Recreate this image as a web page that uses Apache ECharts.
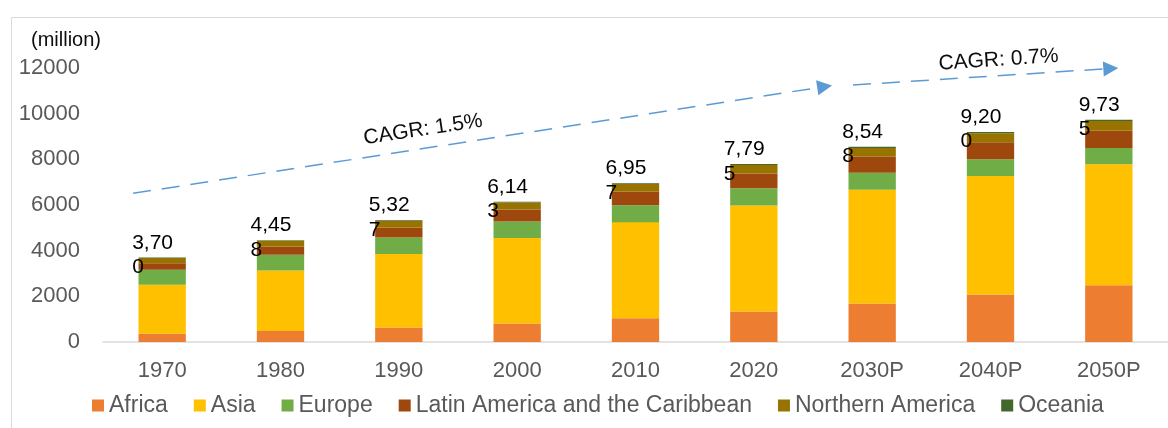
<!DOCTYPE html>
<html><head><meta charset="utf-8">
<script src="https://cdn.jsdelivr.net/npm/echarts@6/dist/echarts.min.js"></script>
<style>html,body{margin:0;padding:0;background:#fff}#c{width:1168px;height:428px}</style>
</head><body><div id="c"></div>
<script>
// ---- data ----
const categories = ['1970', '1980', '1990', '2000', '2010', '2020', '2030P', '2040P', '2050P'];
const africa = [364, 478, 630, 811, 1039, 1341, 1688, 2077, 2489];
const asia = [2142, 2648, 3226, 3740, 4211, 4640, 4978, 5196, 5292];
const europe = [657, 694, 721, 726, 736, 748, 741, 728, 710];
const latinAmerica = [287, 361, 443, 522, 591, 654, 706, 745, 762];
const northernAmerica = [231, 254, 280, 313, 343, 369, 387, 401, 425];
const oceania = [19, 23, 27, 31, 37, 43, 48, 53, 57];
const seriesNames = ['Africa', 'Asia', 'Europe', 'Latin America and the Caribbean', 'Northern America', 'Oceania'];
const yMin = 0, yMax = 12000, yInterval = 2000;
const unitLabel = '(million)';
const cagrTexts = ['CAGR: 1.5%', 'CAGR: 0.7%'];

// ---- styling ----
const FONT = 'Liberation Sans, Arial, sans-serif';
const colors = ['#ED7D31', '#FFC000', '#70AD47', '#9E480E', '#997300', '#43682B'];
const seriesData = [africa, asia, europe, latinAmerica, northernAmerica, oceania];
const totals = categories.map((_, i) => seriesData.reduce((s, arr) => s + arr[i], 0));

function wrapTotal(v) {
  const s = v.toLocaleString('en-US');
  return s.slice(0, 4) + '\n' + s.slice(4);
}

const chart = echarts.init(document.getElementById('c'), null, { renderer: 'canvas' });

const series = seriesNames.map((name, k) => ({
  name: name,
  type: 'bar',
  stack: 'total',
  barWidth: '40%',
  data: seriesData[k],
  itemStyle: { color: colors[k] },
  emphasis: { disabled: true },
  label: k === seriesNames.length - 1 ? {
    show: true,
    position: 'top',
    distance: 0,
    align: 'left',
    offset: [-30, 22],
    fontFamily: FONT,
    fontSize: 21,
    lineHeight: 24.5,
    color: '#000',
    formatter: p => wrapTotal(totals[p.dataIndex])
  } : { show: false }
}));

chart.setOption({
  animation: false,
  backgroundColor: '#fff',
  color: colors,
  title: {
    text: unitLabel,
    left: 31, top: 30.5, padding: 0,
    textStyle: { fontFamily: FONT, fontSize: 20, fontWeight: 'normal', color: '#0d0d0d' }
  },
  legend: {
    data: seriesNames,
    left: 87, top: 389,
    icon: 'rect',
    itemWidth: 12, itemHeight: 12,
    itemGap: 26,
    textStyle: { fontFamily: FONT, fontSize: 23, color: '#595959' },
    selectedMode: false
  },
  grid: { left: 103, right: -3, top: 68, bottom: 86, containLabel: false },
  xAxis: {
    type: 'category',
    data: categories,
    axisLine: { show: true, lineStyle: { color: '#d9d9d9', width: 1.5 } },
    axisTick: { show: false },
    axisLabel: { fontFamily: FONT, fontSize: 22, color: '#595959', margin: 18 }
  },
  yAxis: {
    type: 'value',
    min: yMin, max: yMax, interval: yInterval,
    axisLine: { show: false },
    axisTick: { show: false },
    splitLine: { show: false },
    axisLabel: { fontFamily: FONT, fontSize: 22, color: '#595959', margin: 23, formatter: v => String(v) }
  },
  series: series
});

// ---- annotations (anchored in data space: [category index, value]) ----
function toPx(i, v) {
  const a = chart.convertToPixel({ gridIndex: 0 }, [0, v]);
  const b = chart.convertToPixel({ gridIndex: 0 }, [1, v]);
  return [a[0] + (b[0] - a[0]) * i, a[1]];
}
const ARROW = '#5B9BD5';
function arrow(p0, p1) {
  const dx = p1[0] - p0[0], dy = p1[1] - p0[1];
  const len = Math.hypot(dx, dy);
  const ux = dx / len, uy = dy / len;
  const L = 15, W = 7.5;
  const base = [p1[0] - ux * L, p1[1] - uy * L];
  return [
    { type: 'line', silent: true, shape: { x1: p0[0], y1: p0[1], x2: base[0], y2: base[1] },
      style: { stroke: ARROW, lineWidth: 1.5, lineDash: [18, 11] } },
    { type: 'polygon', silent: true,
      shape: { points: [p1, [base[0] - uy * W, base[1] + ux * W], [base[0] + uy * W, base[1] - ux * W]] },
      style: { fill: ARROW } }
  ];
}
function label(text, p, deg) {
  return { type: 'text', silent: true, x: p[0], y: p[1], rotation: deg * Math.PI / 180,
    style: { text: text, fontFamily: FONT, fontSize: 21, fill: '#0d0d0d', align: 'center', verticalAlign: 'middle' } };
}
const g = [
  { type: 'rect', silent: true, shape: { x: 11.5, y: 17.5, width: 1300, height: 600 },
    style: { fill: 'none', stroke: '#d9d9d9', lineWidth: 1 } }
];
g.push(...arrow(toPx(-0.246, 6512), toPx(5.661, 11234)));
g.push(...arrow(toPx(5.838, 11255), toPx(8.080, 12000)));
g.push(label(cagrTexts[0], toPx(2.204, 9300), 8.5));
g.push(label(cagrTexts[1], toPx(7.068, 12350), 3.8));
chart.setOption({ graphic: g });
</script>
</body></html>
